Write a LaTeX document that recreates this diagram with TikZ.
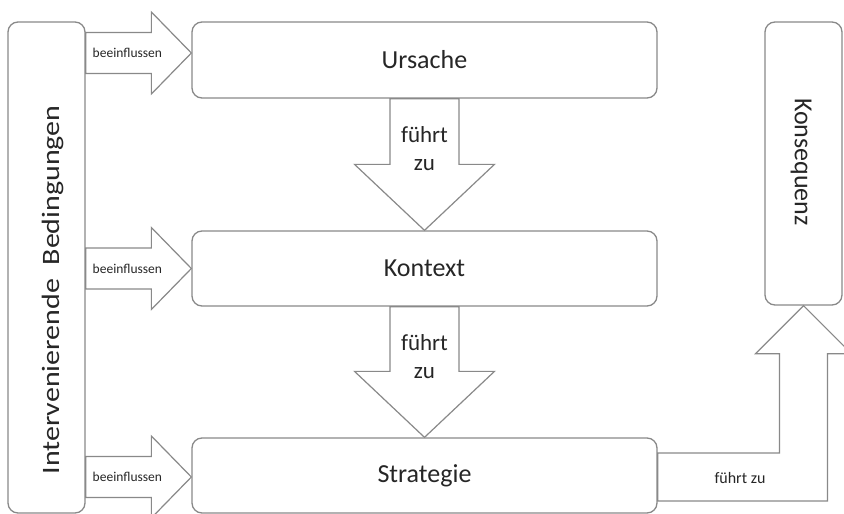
\documentclass[tikz,border=0pt]{standalone}
\usepackage{fontspec}
\setmainfont{Carlito}
\usetikzlibrary{calc}

\definecolor{edgegray}{RGB}{137,137,137}
\definecolor{inkgray}{RGB}{38,38,38}

\tikzset{
  box/.style={draw=edgegray, line width=1.3pt, rounded corners=10pt, fill=white,
              inner sep=0pt, text=inkgray, font=\fontsize{26}{30}\selectfont},
  blockarrow/.style={draw=edgegray, line width=1.2pt, fill=white, line join=miter},
  smalllabel/.style={text=inkgray, font=\fontsize{13.5}{16}\selectfont, inner sep=0pt},
  flowlabel/.style={text=inkgray, font=\fontsize{23}{28}\selectfont, align=center, inner sep=0pt},
}

% horizontal block arrow: #1 = node whose edge gives the tail, #2 = tip coordinate
\newcommand\rightblock[2]{%
  \draw[blockarrow] ($(#1 |- #2)+(0,-20.5)$) -- ($(#2)+(-40,-20.5)$) -- ($(#2)+(-40,-41)$)
    -- (#2) -- ($(#2)+(-40,41)$) -- ($(#2)+(-40,20.5)$) -- ($(#1 |- #2)+(0,20.5)$) -- cycle;}

% downward block arrow: #1 = tail point, #2 = tip point
\newcommand\downblock[2]{%
  \draw[blockarrow] ($(#2 |- #1)+(-34.5,0)$) -- ($(#2)+(-34.5,-66)$) -- ($(#2)+(-70,-66)$)
    -- (#2) -- ($(#2)+(70,-66)$) -- ($(#2)+(34.5,-66)$) -- ($(#2 |- #1)+(34.5,0)$) -- cycle;}

\begin{document}
\begin{tikzpicture}[x=1pt, y=-1pt]
  \useasboundingbox (0,0) rectangle (844,514);
  \clip (0,0) rectangle (844,514);

  % boxes
  \node[box, minimum width=77, minimum height=491] (ib) at (46.5,267.5) {};
  \node[box, minimum width=465, minimum height=76] (urs) at (424.5,60) {Ursache};
  \node[box, minimum width=465, minimum height=75] (kon) at (424.5,268.5) {Kontext};
  \node[box, minimum width=465, minimum height=75] (str) at (424.5,475.5) {Strategie};
  \node[box, minimum width=77, minimum height=283] (kq) at (803.5,163.5) {};

  \node[text=inkgray, font=\fontsize{25}{30}\selectfont, rotate=90, inner sep=0pt] (iblabel)
    at (53,290) {\scalebox{1.2}[1]{Intervenierende\ \ Bedingungen}};
  \node[text=inkgray, font=\fontsize{26}{30}\selectfont, rotate=-90, inner sep=0pt] (kqlabel)
    at (801,162) {Konsequenz};

  % influence arrows from the left box
  \coordinate (tipA) at ($(urs.west)+(0,-7)$);
  \coordinate (tipB) at (kon.west);
  \coordinate (tipC) at ($(str.west)+(0,1.5)$);
  \rightblock{ib.east}{tipA}
  \rightblock{ib.east}{tipB}
  \rightblock{ib.east}{tipC}
  \node[smalllabel] (inflA) at ($(tipA)+(-64,0)$) {beeinflussen};
  \node[smalllabel] (inflB) at ($(tipB)+(-64,0)$) {beeinflussen};
  \node[smalllabel] (inflC) at ($(tipC)+(-64,0)$) {beeinflussen};

  % leads-to arrows between the stacked boxes
  \downblock{urs.south}{kon.north}
  \downblock{kon.south}{str.north}
  \node[flowlabel] (leadA) at ($(urs.south)+(0,50)$) {führt\\zu};
  \node[flowlabel] (leadB) at ($(kon.south)+(0,50)$) {führt\\zu};

  % bent arrow from the strategy box up to the consequence box
  \coordinate (bendtip) at (kq.south);
  \draw[blockarrow] ($(str.east)+(0,-22.5)$) -| ($(bendtip)+(-24,48)$)
    -- ($(bendtip)+(-48,48)$) -- (bendtip) -- ($(bendtip)+(48,48)$)
    -- ($(bendtip)+(24,48)$) |- ($(str.east)+(0,25.5)$) -- cycle;
  \node[text=inkgray, font=\fontsize{16}{19}\selectfont, inner sep=0pt] (leadC)
    at (740,478) {führt zu};
\end{tikzpicture}
\end{document}
